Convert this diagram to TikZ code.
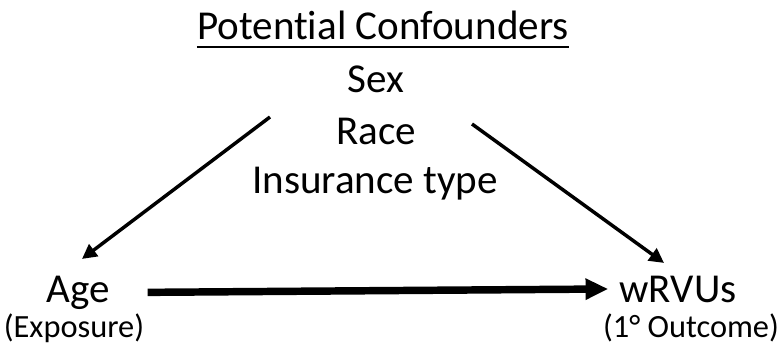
\documentclass[tikz,border=0pt]{standalone}
\usepackage{fontspec}
\setmainfont[Ligatures=NoCommon]{Carlito}
\usetikzlibrary{arrows.meta,positioning}

\begin{document}
\begin{tikzpicture}[x=0.75pt,y=-0.75pt]
\useasboundingbox (0,0) rectangle (780,346);
\tikzset{big/.style={font=\fontsize{30.8}{36}\selectfont, anchor=base},
         small/.style={font=\fontsize{24.3}{29}\selectfont, anchor=base}}
\node[big, inner sep=0pt] (conf) at (383,40) {Potential Confounders};
\draw[line width=1.5pt] ([yshift=-5.2pt]conf.base west) -- ([yshift=-5.2pt]conf.base east);
\node[big] (sex) at (376,92) {Sex};
\node[big] (race) at (376,144) {Race};
\node[big] (ins) at (375,193) {Insurance type};
\node[big] (age) at (78,302) {Age};
\node[small] (exp) at (74,337) {(Exposure)};
\node[big] (wrvu) at (678,302) {wRVUs};
\node[small] (out) at (691,337) {(1° Outcome)};
\coordinate (cl) at (270,117);
\coordinate (cr) at (472,124);
\draw[line width=2.6pt, -{Triangle[length=11pt,width=11pt]}] (cl) -- ([shift={(4,-12)}]age.north);
\draw[line width=2.6pt, -{Triangle[length=11pt,width=11pt]}] (cr) -- ([shift={(-14,-8)}]wrvu.north);
\draw[line width=5.6pt, -{Triangle[length=17pt,width=15pt]}] ([xshift=25pt]age.east) -- ([xshift=-5pt]wrvu.west);
\end{tikzpicture}
\end{document}
